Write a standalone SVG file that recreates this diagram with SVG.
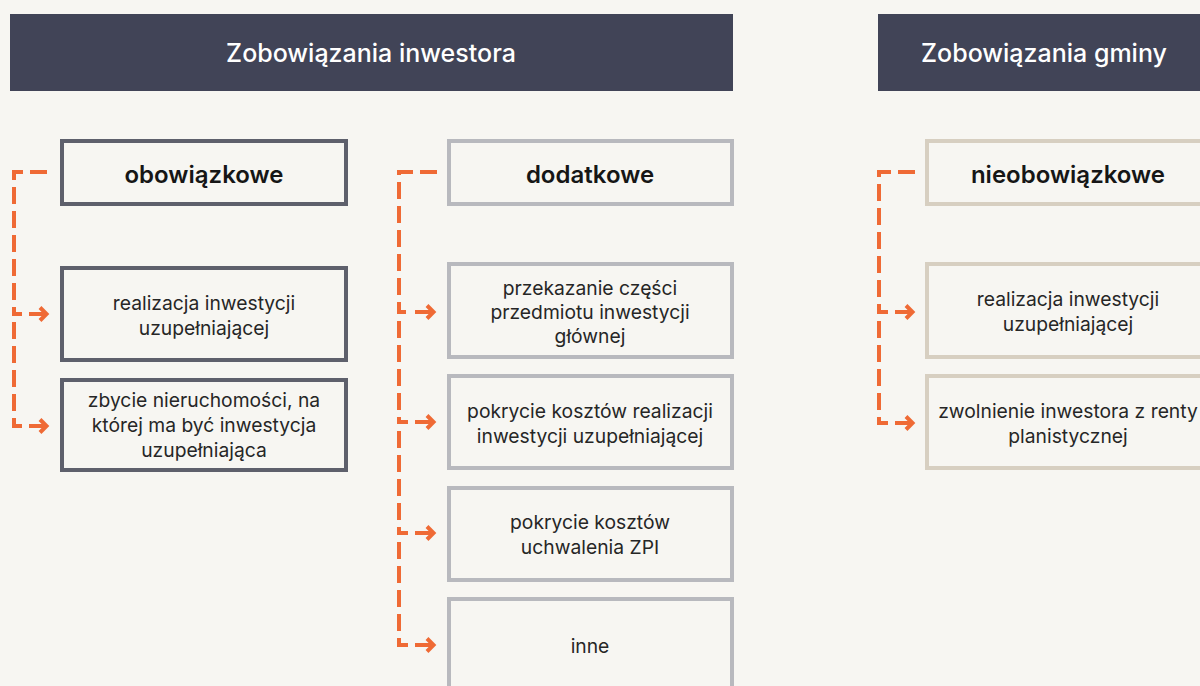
<svg xmlns="http://www.w3.org/2000/svg" width="1200" height="686" viewBox="0 0 1200 686">
<style>
.hdr{fill:#414457}
.htx{font-family:Inter,"Liberation Sans",sans-serif;font-size:25px;font-weight:500;fill:#ffffff;text-anchor:middle}
.box{fill:none;stroke-width:4}
.b1{stroke:#5e606c}
.b2{stroke:#b8b9be}
.b3{stroke:#d7cfc1}
.ttl{font-family:Inter,"Liberation Sans",sans-serif;font-size:24px;font-weight:600;fill:#161616;text-anchor:middle}
.txt{font-family:Inter,"Liberation Sans",sans-serif;font-size:19.3px;fill:#262626;text-anchor:middle}
.dash{fill:none;stroke:#ef6a35;stroke-width:4;stroke-dasharray:17 7}
.arr{fill:none;stroke:#ef6a35;stroke-width:4}
</style>
<rect width="1200" height="686" fill="#f7f6f2"/>
<g id="header-inwestor"><rect class="hdr" x="10" y="14" width="723" height="77"/><text class="htx" x="371" y="62">Zobowiązania inwestora</text></g>
<g id="header-gmina"><rect class="hdr" x="878" y="14" width="332" height="77"/><text class="htx" x="1044" y="62">Zobowiązania gminy</text></g>

<g id="obowiazkowe"><rect class="box b1" x="62" y="141" width="284" height="63"/><text class="ttl" x="204" y="183">obowiązkowe</text></g>
<g id="ob-realizacja"><rect class="box b1" x="62" y="268" width="284" height="92"/><text class="txt" x="204" y="310">realizacja inwestycji</text><text class="txt" x="204" y="335">uzupełniającej</text></g>
<g id="ob-zbycie"><rect class="box b1" x="62" y="380" width="284" height="90"/><text class="txt" x="204" y="407">zbycie nieruchomości, na</text><text class="txt" x="204" y="432">której ma być inwestycja</text><text class="txt" x="204" y="457">uzupełniająca</text></g>

<g id="dodatkowe"><rect class="box b2" x="449" y="141" width="283" height="63"/><text class="ttl" x="590" y="183">dodatkowe</text></g>
<g id="do-przekazanie"><rect class="box b2" x="449" y="264" width="283" height="93"/><text class="txt" x="590" y="295">przekazanie części</text><text class="txt" x="590" y="319">przedmiotu inwestycji</text><text class="txt" x="590" y="343">głównej</text></g>
<g id="do-pokrycie-realizacji"><rect class="box b2" x="449" y="376" width="283" height="92"/><text class="txt" x="590" y="418">pokrycie kosztów realizacji</text><text class="txt" x="590" y="443">inwestycji uzupełniającej</text></g>
<g id="do-pokrycie-zpi"><rect class="box b2" x="449" y="488" width="283" height="92"/><text class="txt" x="590" y="529">pokrycie kosztów</text><text class="txt" x="590" y="554">uchwalenia ZPI</text></g>
<g id="do-inne"><rect class="box b2" x="449" y="599" width="283" height="93"/><text class="txt" x="590" y="653">inne</text></g>

<g id="nieobowiazkowe"><rect class="box b3" x="927" y="141" width="283" height="63"/><text class="ttl" x="1068" y="183">nieobowiązkowe</text></g>
<g id="nie-realizacja"><rect class="box b3" x="927" y="264" width="283" height="93"/><text class="txt" x="1068" y="306">realizacja inwestycji</text><text class="txt" x="1068" y="331">uzupełniającej</text></g>
<g id="nie-zwolnienie"><rect class="box b3" x="927" y="376" width="283" height="92"/><text class="txt" x="1068" y="418">zwolnienie inwestora z renty</text><text class="txt" x="1068" y="443">planistycznej</text></g>

<g id="connectors">
<path class="dash" d="M47,172 H14 V314 H22"/>
<path class="dash" d="M14,322 V426 H22"/>
<path class="arr" d="M29,314 H46 M40,307.5 L46.5,314 L40,320.5"/>
<path class="arr" d="M29,426 H46 M40,419.5 L46.5,426 L40,432.5"/>

<path class="dash" d="M437,172 H399 V312 H408"/>
<path class="dash" d="M399,321 V422 H408"/>
<path class="dash" d="M399,431 V533 H408"/>
<path class="dash" d="M399,542 V645 H408"/>
<path class="arr" d="M415,312 H433 M427,305.5 L433.5,312 L427,318.5"/>
<path class="arr" d="M415,422 H433 M427,415.5 L433.5,422 L427,428.5"/>
<path class="arr" d="M415,533 H433 M427,526.5 L433.5,533 L427,539.5"/>
<path class="arr" d="M415,645 H433 M427,638.5 L433.5,645 L427,651.5"/>

<path class="dash" d="M915,172 H879 V312 H888"/>
<path class="dash" d="M879,321 V423 H888"/>
<path class="arr" d="M895,312 H912 M906,305.5 L912.5,312 L906,318.5"/>
<path class="arr" d="M895,423 H912 M906,416.5 L912.5,423 L906,429.5"/>
</g>
</svg>
